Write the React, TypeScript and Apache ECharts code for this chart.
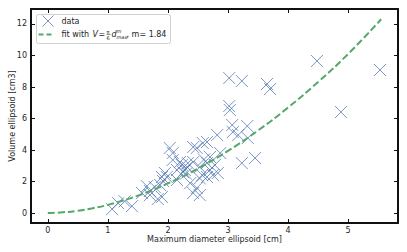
import React, { useEffect, useRef } from "react";
import * as echarts from "echarts";

// Scatter data: maximum diameter [cm] and volume [cm3]
const dataX = [
  1.07, 1.17, 1.4, 1.28, 1.57, 1.65, 1.7, 1.78, 1.83, 1.7, 1.9, 1.87, 1.95, 1.92,
  2.03, 2.08, 2.15, 2.08, 2.23, 2.28, 2.42, 2.58, 2.48, 2.2, 2.33, 2.42, 2.32, 2.25,
  2.53, 2.7, 2.83, 2.75, 1.98, 2.15, 2.42, 1.9, 2.37, 2.65, 2.48, 2.82, 3.08, 2.65,
  3.17, 3.33, 3.23, 3.45, 2.87, 2.7, 2.65, 2.78, 2.57, 2.53, 3.07, 3.32, 3.02, 3.03,
  3.02, 3.23, 3.65, 3.7, 4.48, 5.53, 4.88, 2.53, 2.3, 2.6,
];
const dataY = [
  0.25, 0.63, 0.44, 0.75, 1.27, 1.71, 1.4, 1.65, 0.89, 1.14, 2.29, 1.78, 2.54, 2.03,
  4.13, 3.37, 2.73, 3.81, 3.05, 2.73, 4.19, 4.44, 4.13, 3.24, 3.17, 3.24, 2.92, 2.6,
  2.92, 2.73, 2.54, 2.41, 2.29, 2.1, 1.27, 1.02, 1.9, 2.29, 1.59, 4.95, 5.14, 4.51,
  4.95, 4.76, 3.17, 3.49, 3.81, 3.56, 3.17, 3.05, 2.41, 1.14, 5.59, 5.52, 6.79, 6.54,
  8.57, 8.38, 8.19, 7.87, 9.65, 9.08, 6.41, 2.2, 2.5, 3.4,
];

// Fitted curve
const fitX = [0, 0.25, 0.5, 0.75, 1, 1.5, 2, 2.5, 3, 3.5, 4, 4.5, 5, 5.55];
const fitY = [0, 0.05, 0.15, 0.31, 0.52, 1.11, 1.88, 2.83, 3.95, 5.24, 6.7, 8.32, 10.1, 12.3];

const xTicks = [0, 1, 2, 3, 4, 5];
const yTicks = [0, 2, 4, 6, 8, 10, 12];

const xLabel = "Maximum diameter ellipsoid [cm]";
const yLabel = "Volume ellipsoid [cm3]";

const FONT = "DejaVu Sans";
const BLUE = "#4c72b0";
const GREEN = "#55a868";
const TXT = "#262626";

export default function App() {
  const ref = useRef<HTMLDivElement>(null);
  useEffect(() => {
    if (!ref.current) return;
    const chart = echarts.init(ref.current, undefined, { renderer: "svg" });
    const xMin = -0.28, xMax = 5.83, yMin = -0.63, yMax = 12.95;
    const axisLine = { show: true, onZero: false, lineStyle: { color: "#111", width: 2 } };
    const tickStyle = { show: true, inside: true, length: 4, lineStyle: { color: "#111", width: 1 } };
    const lbl = { color: TXT, fontFamily: FONT, fontSize: 8 };
    const scatter = dataX.map((x, i) => [x, dataY[i]]);
    const fit = fitX.map((x, i) => [x, fitY[i]]);
    const t = (x: number, y: number, text: string, size = 8, italic = false) => ({
      type: "text",
      x,
      y,
      style: {
        text,
        fontFamily: FONT,
        fontSize: size,
        fontStyle: italic ? "italic" : "normal",
        fill: TXT,
        textVerticalAlign: "middle",
      },
    });
    chart.setOption({
      animation: false,
      grid: { left: 31, right: 9, top: 9, bottom: 29, containLabel: false, outerBoundsMode: "none" },
      xAxis: [
        {
          type: "value", min: xMin, max: xMax, position: "bottom",
          axisLine, axisTick: { ...tickStyle, customValues: xTicks },
          axisLabel: { ...lbl, margin: 3, customValues: xTicks },
          splitLine: { show: false },
          name: xLabel, nameLocation: "middle", nameGap: 12, nameMoveOverlap: false,
          nameTextStyle: { color: TXT, fontFamily: FONT, fontSize: 8, verticalAlign: "top" },
        },
        {
          type: "value", min: xMin, max: xMax, position: "top",
          axisLine, axisTick: { ...tickStyle, customValues: xTicks },
          axisLabel: { show: false }, splitLine: { show: false },
        },
      ],
      yAxis: [
        {
          type: "value", min: yMin, max: yMax, position: "left",
          axisLine, axisTick: { ...tickStyle, customValues: yTicks },
          axisLabel: { ...lbl, margin: 4, customValues: yTicks },
          splitLine: { show: false },
          name: yLabel, nameLocation: "middle", nameGap: 19, nameMoveOverlap: false,
          nameTextStyle: { color: TXT, fontFamily: FONT, fontSize: 8, verticalAlign: "middle" },
        },
        {
          type: "value", min: yMin, max: yMax, position: "right",
          axisLine, axisTick: { ...tickStyle, customValues: yTicks },
          axisLabel: { show: false }, splitLine: { show: false },
        },
      ],
      series: [
        {
          type: "scatter",
          data: scatter,
          symbol: "path://M0,0L10,10M0,10L10,0",
          symbolSize: 12,
          itemStyle: { color: "transparent", borderColor: BLUE, borderWidth: 1, opacity: 0.75 },
          z: 2,
        },
        {
          type: "line",
          data: fit,
          smooth: true,
          showSymbol: false,
          lineStyle: { color: GREEN, width: 2, type: [7, 3] },
          z: 3,
        },
      ],
      graphic: [
        {
          type: "group",
          left: 36,
          top: 13,
          children: [
            {
              type: "rect",
              shape: { x: 0, y: 0, width: 134, height: 29, r: 2 },
              style: { fill: "rgba(255,255,255,0.85)", stroke: "#d0d0d0", lineWidth: 1 },
            },
            { type: "line", shape: { x1: 6, y1: 1, x2: 17, y2: 12 }, style: { stroke: BLUE, lineWidth: 1, opacity: 0.75 } },
            { type: "line", shape: { x1: 6, y1: 12, x2: 17, y2: 1 }, style: { stroke: BLUE, lineWidth: 1, opacity: 0.75 } },
            t(25, 7, "data"),
            { type: "line", shape: { x1: 2, y1: 20, x2: 15, y2: 20 }, style: { stroke: GREEN, lineWidth: 2, lineDash: [5, 3] } },
            t(25, 20, "fit with "),
            t(56, 20, "V", 8, true),
            t(62, 20, "="),
            t(70, 17, "π", 5),
            { type: "line", shape: { x1: 70, y1: 20, x2: 74, y2: 20 }, style: { stroke: TXT, lineWidth: 0.5 } },
            t(70, 23, "6", 5),
            t(75, 20, "d", 8, true),
            t(80, 16.5, "m", 5, true),
            t(80, 22.5, "max", 5, true),
            t(90, 20, ", m= 1.84"),
          ],
        },
      ],
    });
    return () => chart.dispose();
  }, []);
  return (
    <div
      ref={ref}
      style={{ position: "fixed", left: 0, top: 0, width: 407, height: 252, background: "#fff" }}
    />
  );
}
